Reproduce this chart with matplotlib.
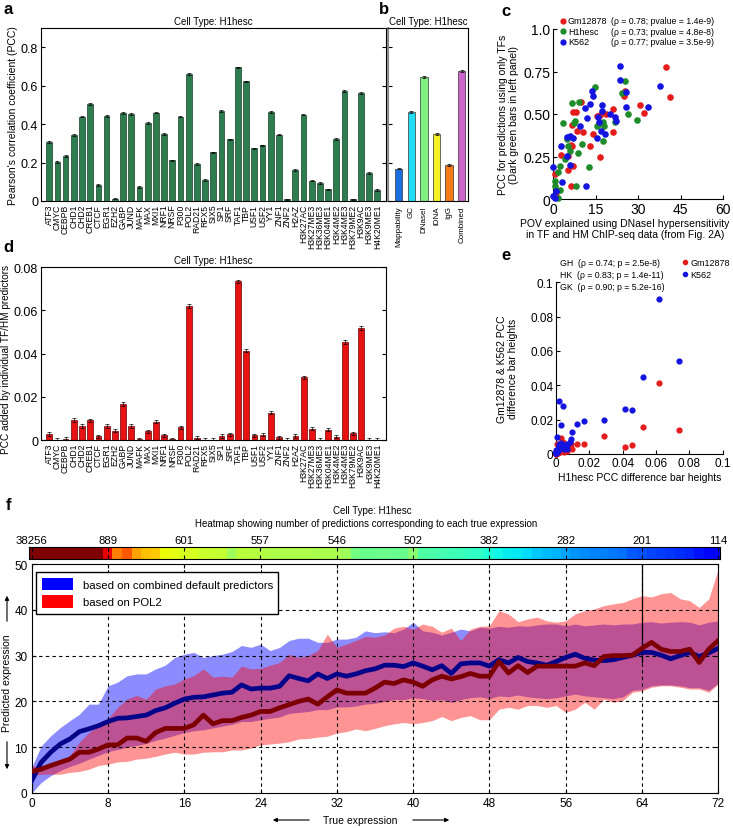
import numpy as np
import matplotlib
matplotlib.use("Agg")
import matplotlib.pyplot as plt
from matplotlib.patches import Patch
from matplotlib.colors import Normalize

plt.rcParams['font.family'] = ['Liberation Sans', 'DejaVu Sans']

# -----------------------------
# Data
# -----------------------------
factors = ["ATF3", "CMYC", "CEBPB", "CHD1", "CHD2", "CREB1", "CTCF", "EGR1", "EZH2",
           "GABP", "JUND", "MAFK", "MAX", "MXI1", "NRF1", "NRSF", "P300", "POL2",
           "RAD21", "RFX5", "SIX5", "SP1", "SRF", "TAF1", "TBP", "USF1", "USF2", "YY1",
           "ZNF1", "ZNF2", "H2AZ", "H3K27AC", "H3K27ME3", "H3K36ME3", "H3K04ME1",
           "H3K4ME2", "H3K4ME3", "H3K79ME2", "H3K9AC", "H3K9ME3", "H4K20ME1"]

# panel a: PCC per predictor
pcc_single = [0.308, 0.204, 0.234, 0.343, 0.439, 0.504, 0.082, 0.443, 0.012,
              0.457, 0.453, 0.073, 0.406, 0.460, 0.349, 0.211, 0.439, 0.661,
              0.192, 0.108, 0.253, 0.469, 0.321, 0.695, 0.622, 0.274, 0.289, 0.464,
              0.345, 0.009, 0.160, 0.450, 0.106, 0.094, 0.061,
              0.322, 0.573, 0.009, 0.563, 0.146, 0.056]

# panel b: baseline predictors
base_labels = ["Mappability", "GC", "DNaseI", "iDNA", "IgG", "Combined"]
pcc_base = [0.169, 0.462, 0.645, 0.349, 0.188, 0.677]
base_colors = ["#1a6fdf", "#22dcf5", "#80f080", "#f5f020", "#f57a14", "#cc66cc"]

# panel d: PCC added by each predictor
pcc_added = [0.0028, 0.0002, 0.0005, 0.0093, 0.0064, 0.0091, 0.0017, 0.0065, 0.0043,
             0.0166, 0.0064, 0.0003, 0.0040, 0.0085, 0.0022, 0.0003, 0.0059, 0.0620,
             0.0011, 0.0002, 0.0002, 0.0019, 0.0026, 0.0735, 0.0414, 0.0022, 0.0025,
             0.0127, 0.0012, 0.0002, 0.0019, 0.0290, 0.0053, 0.0001, 0.0048,
             0.0016, 0.0453, 0.0031, 0.0519, 0.0001, 0.0001]

# panel c: POV vs PCC (TF only)
pov_gm = [39.6, 41.2, 30.6, 32.0, 25.3, 25.1, 21.2, 21.2, 16.5, 15.3, 14.1, 12.9, 16.5,
          10.6, 7.1, 8.0, 6.5, 8.2, 6.5, 5.3, 2.6, 5.3, 6.1, 6.8, 0.6, 0.9, 1.2, 18.5, 9.7, 6.3]
pcc_gm = [0.775, 0.598, 0.555, 0.508, 0.637, 0.608, 0.529, 0.396, 0.494, 0.490, 0.382,
          0.312, 0.245, 0.392, 0.514, 0.514, 0.435, 0.402, 0.314, 0.255, 0.259, 0.173,
          0.078, 0.192, 0.147, 0.020, 0.050, 0.500, 0.570, 0.320]
pov_h1 = [25.4, 24.1, 26.5, 29.4, 14.7, 9.2, 6.5, 7.6, 3.3, 15.3, 17.6, 17.9, 21.8, 17.6,
          10.0, 8.8, 12.6, 4.7, 5.3, 5.9, 4.1, 2.4, 1.8, 0.6, 0.6, 1.8, 8.0, 2.4, 7.3, 16.0]
pcc_h1 = [0.696, 0.624, 0.500, 0.467, 0.661, 0.573, 0.565, 0.461, 0.445, 0.431, 0.451,
          0.431, 0.455, 0.343, 0.324, 0.271, 0.186, 0.353, 0.314, 0.284, 0.235, 0.196,
          0.157, 0.108, 0.078, 0.004, 0.075, 0.055, 0.450, 0.440]
pov_k5 = [23.5, 23.5, 37.6, 25.5, 33.5, 25.6, 13.5, 14.1, 11.2, 12.9, 17.1, 17.1, 20.0,
          21.8, 22.1, 15.9, 16.2, 12.0, 9.4, 18.2, 16.7, 15.3, 6.8, 5.9, 4.7, 2.6, 4.7,
          5.9, 2.9, 0.0, 0.0, 0.6, 11.4, 1.0]
pcc_k5 = [0.784, 0.700, 0.667, 0.631, 0.539, 0.543, 0.637, 0.608, 0.533, 0.559, 0.553,
          0.520, 0.500, 0.480, 0.461, 0.480, 0.451, 0.475, 0.431, 0.382, 0.402, 0.357,
          0.357, 0.373, 0.363, 0.314, 0.255, 0.200, 0.102, 0.186, 0.020, 0.004, 0.076, 0.050]
c_cells = ["Gm12878", "H1hesc", "K562"]
c_rho = ["0.78", "0.73", "0.77"]
c_pval = ["1.4e-9", "4.8e-8", "3.5e-9"]

# panel e: difference bar heights in the other cell types (x = pcc_added)
diff_gm = [0.0091, 0.0010, 0.0058, 0.0029, 0.0040, 0.0060, 0.0020, 0.0015, 0.0070,
           0.0058, 0.0035, 0.0005, 0.0030, 0.0055, 0.0012, 0.0008, 0.0025, 0.0416,
           0.0006, 0.0003, 0.0004, 0.0050, 0.0018, 0.0142, 0.0043, 0.0028, 0.0016,
           0.0058, 0.0009, 0.0002, 0.0030, 0.0107, 0.0020, 0.0001, 0.0012,
           0.0025, 0.0054, 0.0045, 0.0159, 0.0002, 0.0001]
diff_k5 = [0.0169, 0.0025, 0.0097, 0.0126, 0.0050, 0.0087, 0.0310, 0.0030, 0.0278,
           0.0194, 0.0060, 0.0015, 0.0055, 0.0072, 0.0040, 0.0012, 0.0035, 0.0900,
           0.0020, 0.0008, 0.0010, 0.0060, 0.0040, 0.0540, 0.0262, 0.0050, 0.0035,
           0.0175, 0.0022, 0.0006, 0.0045, 0.0196, 0.0040, 0.0005, 0.0030,
           0.0055, 0.0256, 0.0065, 0.0450, 0.0003, 0.0004]
e_pairs = ["GH", "HK", "GK"]
e_rho = ["0.74", "0.83", "0.90"]
e_pval = ["2.5e-8", "1.4e-11", "5.2e-16"]

# panel f: predicted vs true expression
true_expr = list(range(73))
n_pred = [38256, 12000, 6500, 4200, 3000, 2200, 1600, 1150, 889, 760, 800, 720, 690,
          680, 625, 615, 601, 598, 585, 580, 578, 535, 565, 562, 557, 553, 550, 551,
          549, 548, 547, 546, 546, 530, 480, 470, 468, 472, 465, 470, 502, 440, 435,
          425, 420, 415, 405, 400, 382, 360, 350, 345, 335, 315, 305, 295, 282, 265,
          258, 252, 248, 240, 232, 210, 201, 190, 182, 175, 168, 160, 140, 128, 114]
comb_mean = [2.7, 6.7, 8.9, 10.7, 11.8, 13.4, 14.0, 14.7, 15.6, 16.3, 16.4, 16.7, 17.0,
             18.0, 18.6, 19.6, 20.5, 20.9, 21.0, 21.4, 21.8, 22.0, 23.6, 22.7, 22.9,
             22.9, 23.3, 25.6, 25.0, 24.5, 26.0, 25.0, 26.0, 25.5, 26.0, 26.7, 27.1,
             27.9, 27.9, 27.6, 28.4, 27.7, 26.9, 27.8, 26.1, 28.2, 28.4, 28.4, 27.7,
             29.1, 28.4, 29.6, 28.7, 28.4, 27.9, 28.7, 29.6, 30.3, 29.4, 29.0, 28.9,
             29.1, 29.6, 30.1, 30.7, 30.7, 30.1, 29.3, 30.0, 30.7, 29.8, 30.6, 31.6]
comb_hi = [5.6, 10.3, 12.5, 14.3, 15.8, 17.2, 19.4, 19.4, 23.4, 24.2, 25.6, 26.0, 26.0,
           27.1, 27.9, 29.6, 30.3, 30.7, 29.6, 30.0, 30.3, 30.9, 32.2, 31.8, 32.5, 31.1,
           31.8, 33.3, 33.8, 33.8, 32.9, 32.9, 33.6, 33.6, 34.0, 35.4, 35.0, 35.2, 35.0,
           35.8, 37.3, 35.4, 35.1, 34.5, 35.1, 35.8, 35.4, 36.2, 36.0, 36.4, 36.2, 36.5,
           36.4, 36.7, 36.9, 36.9, 36.5, 36.9, 36.5, 36.7, 36.9, 36.7, 36.9, 36.9, 37.3,
           37.4, 37.1, 37.3, 37.4, 37.3, 36.7, 37.3, 37.6]
comb_lo = [0.0, 2.3, 3.8, 4.9, 5.8, 6.5, 7.4, 8.2, 9.0, 9.5, 10.0, 10.4, 10.8, 11.5,
           12.0, 12.6, 13.2, 13.6, 13.8, 14.2, 14.6, 15.0, 15.6, 15.6, 16.0, 16.3, 16.6,
           17.4, 17.6, 17.8, 18.2, 18.2, 18.8, 18.8, 19.0, 19.4, 19.6, 20.0, 20.4, 20.4,
           20.8, 20.6, 20.2, 20.4, 19.8, 20.4, 20.8, 21.0, 20.6, 21.2, 21.0, 21.4, 21.0,
           20.8, 20.6, 20.8, 21.2, 21.6, 21.2, 21.0, 20.8, 20.6, 21.0, 22.4, 22.6, 23.4,
           23.6, 23.6, 23.4, 23.0, 23.0, 22.4, 24.0]
pol2_mean = [4.7, 5.2, 6.0, 6.7, 7.4, 8.9, 8.9, 9.6, 10.5, 10.5, 12.0, 12.0, 11.3, 13.2,
             14.1, 14.1, 14.1, 14.9, 17.0, 15.1, 15.8, 15.8, 16.5, 17.0, 17.8, 17.8,
             18.6, 19.3, 20.0, 20.5, 19.4, 21.0, 22.5, 21.8, 21.8, 21.8, 22.9, 24.2,
             23.9, 24.7, 24.2, 23.3, 24.7, 25.5, 24.9, 25.4, 26.1, 25.5, 25.5, 28.7,
             26.2, 27.8, 26.3, 27.7, 27.7, 27.7, 27.7, 27.7, 28.4, 27.8, 29.8, 30.0,
             30.0, 30.1, 31.6, 32.9, 31.4, 30.9, 30.9, 31.4, 28.5, 31.4, 33.3]
pol2_hi = [6.0, 5.6, 6.0, 6.7, 8.2, 11.1, 13.2, 14.7, 16.2, 18.7, 20.5, 21.3, 20.5, 22.7,
           23.4, 23.8, 24.9, 25.6, 27.1, 25.3, 25.5, 25.3, 27.7, 27.1, 27.2, 27.9, 28.5,
           30.3, 29.6, 30.0, 31.1, 34.7, 31.8, 32.5, 33.3, 34.2, 34.0, 34.5, 36.0, 36.4,
           35.8, 36.9, 36.4, 35.1, 36.0, 33.3, 35.8, 36.4, 36.5, 39.8, 39.1, 37.4, 38.0,
           38.4, 37.6, 37.3, 37.6, 39.1, 39.8, 40.2, 40.9, 41.3, 41.6, 42.4, 43.1, 42.8,
           43.5, 43.8, 42.4, 42.0, 40.5, 42.4, 49.0]
pol2_lo = [3.8, 4.1, 4.1, 4.1, 4.5, 4.7, 5.2, 6.0, 6.3, 6.8, 6.9, 7.4, 7.6, 8.0, 8.5,
           8.9, 8.5, 8.5, 8.9, 9.0, 9.0, 9.4, 9.4, 9.8, 10.5, 10.7, 10.9, 11.2, 11.8,
           11.9, 12.2, 12.4, 13.1, 13.4, 14.0, 13.6, 14.1, 14.7, 15.1, 15.4, 15.1, 15.4,
           15.8, 16.7, 15.8, 16.5, 16.9, 16.0, 16.0, 18.3, 18.7, 18.3, 19.1, 19.1, 18.7,
           19.1, 17.6, 18.3, 19.8, 18.3, 20.5, 19.8, 20.2, 22.0, 22.3, 23.1, 23.4, 23.4,
           23.1, 22.7, 22.7, 22.0, 23.8]

# -----------------------------
# Figure helpers
# -----------------------------
W, H = 733, 829
fig = plt.figure(figsize=(W / 100, H / 100), dpi=100)


def add_ax(left, top, right, bottom):
    # axes placed by pixel box of the reference
    return fig.add_axes([left / W, 1 - bottom / H, (right - left) / W, (bottom - top) / H])


def panel_letter(x, y, s):
    fig.text(x / W, 1 - y / H, s, fontsize=12, fontweight="bold", ha="center", va="center")


def add_arrow(x0, y0, x1, y1):
    fig.add_artist(plt.Annotation("", xy=(x1 / W, 1 - y1 / H), xytext=(x0 / W, 1 - y0 / H),
                                  xycoords="figure fraction",
                                  arrowprops=dict(arrowstyle="-|>", color="black", lw=0.8,
                                                  mutation_scale=6)))


TXT = 7.5
CAT = 6.2
title = "Cell Type: H1hesc"
xpos = np.arange(1, len(factors) + 1)

# -----------------------------
# a
# -----------------------------
ax_a = add_ax(41, 29, 385.5, 202)
ax_a.bar(xpos, pcc_single, width=0.7, color="#2e7d4f", edgecolor="#173f27", linewidth=0.5,
         yerr=0.004, capsize=1.2, error_kw=dict(elinewidth=0.5, capthick=0.5))
ax_a.set_xlim(0, 42)
ax_a.set_ylim(0, 0.9)
ax_a.set_xticks(xpos)
ax_a.set_xticklabels(factors, rotation=90, fontsize=CAT)
ax_a.set_yticks([0, 0.2, 0.4, 0.6, 0.8])
ax_a.set_yticklabels(["0", "0.2", "0.4", "0.6", "0.8"])
ax_a.tick_params(axis="y", direction="in", length=3, right=True, labelsize=9, pad=2)
ax_a.tick_params(axis="x", length=0, pad=2)
ax_a.set_ylabel("Pearson's correlation coefficient (PCC)", fontsize=TXT, labelpad=2)
ax_a.set_title(title, fontsize=7, pad=3)

# -----------------------------
# b
# -----------------------------
ax_b = add_ax(388, 29, 468, 202)
bpos = np.arange(1, len(base_labels) + 1)
ax_b.bar(bpos, pcc_base, width=0.6, color=base_colors, edgecolor="#333333", linewidth=0.5,
         yerr=0.004, capsize=1.2, error_kw=dict(elinewidth=0.5, capthick=0.5))
ax_b.set_xlim(0.15, 6.5)
ax_b.set_ylim(0, 0.9)
ax_b.set_xticks(bpos)
ax_b.set_xticklabels(base_labels, rotation=90, fontsize=5.8)
ax_b.set_yticks([0, 0.2, 0.4, 0.6, 0.8])
ax_b.set_yticklabels([])
ax_b.tick_params(axis="y", direction="in", length=3)
ax_b.tick_params(axis="x", length=0, pad=3)
ax_b.spines["left"].set_color("#888888")
ax_b.spines["left"].set_linewidth(1.5)
ax_b.set_title(title, fontsize=7, pad=3)

# -----------------------------
# c
# -----------------------------
ax_c = add_ax(553.3, 30, 723.3, 200)
ax_c.scatter(pov_gm, pcc_gm, s=14, color="#e51c1c", clip_on=False, zorder=3)
ax_c.scatter(pov_h1, pcc_h1, s=14, color="#1e8c2a", clip_on=False, zorder=3)
ax_c.scatter(pov_k5, pcc_k5, s=14, color="#1414e0", clip_on=False, zorder=3)
ax_c.set_xlim(0, 60)
ax_c.set_ylim(0, 1)
ax_c.set_xticks([0, 15, 30, 45, 60])
ax_c.set_yticks([0, 0.25, 0.5, 0.75, 1.0])
ax_c.set_yticklabels(["0", "0.25", "0.50", "0.75", "1.0"])
ax_c.spines["top"].set_visible(False)
ax_c.spines["right"].set_visible(False)
ax_c.tick_params(direction="in", length=3, labelsize=10, pad=2)
ax_c.set_xlabel("POV explained using DNaseI hypersensitivity\nin TF and HM ChIP-seq data (from Fig. 2A)",
                fontsize=TXT, linespacing=1.2)
ax_c.xaxis.set_label_coords(0.42, -0.11)
ax_c.set_ylabel("PCC for predictions using only TFs\n(Dark green bars in left panel)",
                fontsize=TXT, linespacing=1.2)
ax_c.yaxis.set_label_coords(-0.2, 0.5)
c_cols = ["#e51c1c", "#1e8c2a", "#1414e0"]
for i, (cell, r, p) in enumerate(zip(c_cells, c_rho, c_pval)):
    yy = 1.049 - i * 0.062
    ax_c.plot([0.057], [yy], "o", ms=3.5, color=c_cols[i], transform=ax_c.transAxes, clip_on=False)
    ax_c.text(0.086, yy, cell, fontsize=6.5, va="center", transform=ax_c.transAxes)
    ax_c.text(0.338, yy, f"(\u03c1 = {r}; pvalue = {p})", fontsize=6.3, va="center",
              transform=ax_c.transAxes)

# -----------------------------
# d
# -----------------------------
ax_d = add_ax(41, 268.3, 385.7, 441)
ax_d.bar(xpos, pcc_added, width=0.7, color="#e81212", edgecolor="#6a0000", linewidth=0.5,
         yerr=0.0008, capsize=1.2, error_kw=dict(elinewidth=0.5, capthick=0.5))
ax_d.set_xlim(0, 42)
ax_d.set_ylim(0, 0.08)
ax_d.set_xticks(xpos)
ax_d.set_xticklabels(factors, rotation=90, fontsize=CAT)
ax_d.set_yticks([0, 0.02, 0.04, 0.06, 0.08])
ax_d.set_yticklabels(["0", "0.02", "0.04", "0.06", "0.08"])
ax_d.tick_params(axis="y", direction="in", length=3, right=True, labelsize=9, pad=2)
ax_d.tick_params(axis="x", length=0, pad=2)
ax_d.set_ylabel("PCC added by individual TF/HM predictors", fontsize=7.2)
ax_d.yaxis.set_label_coords(-0.086, 0.47)
ax_d.set_title(title, fontsize=7, pad=3)

# -----------------------------
# e
# -----------------------------
ax_e = add_ax(556, 283.3, 722.7, 455)
ax_e.scatter(pcc_added, diff_gm, s=12, color="#e51c1c", clip_on=False, zorder=3)
ax_e.scatter(pcc_added, diff_k5, s=12, color="#1414e0", clip_on=False, zorder=3)
ax_e.set_xlim(0, 0.1)
ax_e.set_ylim(0, 0.1)
eticks = [0, 0.02, 0.04, 0.06, 0.08, 0.1]
ax_e.set_xticks(eticks)
ax_e.set_xticklabels([f"{t:g}" for t in eticks])
ax_e.set_yticks(eticks)
ax_e.set_yticklabels([f"{t:g}" for t in eticks])
ax_e.spines["top"].set_visible(False)
ax_e.spines["right"].set_visible(False)
ax_e.tick_params(direction="in", length=3, labelsize=8.5, pad=2)
ax_e.set_xlabel("H1hesc PCC difference bar heights", fontsize=TXT, labelpad=2)
ax_e.set_ylabel("Gm12878 & K562 PCC\ndifference bar heights", fontsize=TXT, linespacing=1.2)
ax_e.yaxis.set_label_coords(-0.225, 0.5)
for i, (pr, r, p) in enumerate(zip(e_pairs, e_rho, e_pval)):
    ax_e.text(0.024, 1.118 - i * 0.07, f"{pr}  (\u03c1 = {r}; p = {p})", fontsize=6.3,
              va="center", transform=ax_e.transAxes)
for i, (cell, col) in enumerate([("Gm12878", "#e51c1c"), ("K562", "#1414e0")]):
    yy = 1.118 - i * 0.07
    ax_e.plot([0.774], [yy], "o", ms=3, color=col, transform=ax_e.transAxes, clip_on=False)
    ax_e.text(0.804, yy, cell, fontsize=6.5, va="center", transform=ax_e.transAxes)

# -----------------------------
# f: heatmap strip
# -----------------------------
ax_h = add_ax(29.3, 548.3, 720, 560)
ax_h.imshow(np.array(n_pred)[None, :], extent=(-0.5, 72.5, 0, 1), aspect="auto",
            cmap="jet", norm=Normalize(vmin=0, vmax=980), interpolation="nearest")
ax_h.set_xlim(-0.25, 72.2)
ax_h.set_ylim(0, 1)
hticks = list(range(0, 73, 8))
ax_h.set_xticks(hticks)
ax_h.set_xticklabels([str(n_pred[t]) for t in hticks])
ax_h.xaxis.tick_top()
ax_h.tick_params(axis="x", direction="in", length=3, top=True, bottom=True, labelsize=8.2, pad=2)
ax_h.set_yticks([])
fig.text(372 / W, 1 - 511.5 / H, title, fontsize=7, ha="center", va="center")
fig.text(366 / W, 1 - 524 / H,
         "Heatmap showing number of predictions corresponding to each true expression",
         fontsize=7, ha="center", va="center")

# -----------------------------
# f: main panel
# -----------------------------
ax_f = add_ax(31.7, 565, 718.3, 794)
ax_f.fill_between(true_expr, comb_lo, comb_hi, color="#0000ff", alpha=0.45, lw=0, zorder=1)
ax_f.fill_between(true_expr, pol2_lo, pol2_hi, color="#ff0000", alpha=0.42, lw=0, zorder=1.1)
for gx in range(8, 72, 8):
    ax_f.axvline(gx, color="black", lw=0.8, ls=(0, (3, 3)), zorder=1.5)
for gy in range(10, 50, 10):
    ax_f.axhline(gy, color="black", lw=0.8, ls=(0, (3, 3)), zorder=1.5)
ax_f.axvline(64, ymin=0.572, ymax=1, color="black", lw=0.9, zorder=1.6)
ax_f.plot(true_expr, comb_mean, color="#05058a", lw=3.4, zorder=3)
ax_f.plot(true_expr, pol2_mean, color="#7d0000", lw=3.4, zorder=3.1)
ax_f.set_xlim(0, 72)
ax_f.set_ylim(0, 50)
ax_f.set_xticks(list(range(0, 73, 8)))
ax_f.set_yticks(list(range(0, 51, 10)))
ax_f.tick_params(direction="in", length=3, labelsize=8.5, pad=3, top=True, right=True)
ax_f.legend(handles=[Patch(facecolor="#0000ff", label="based on combined default predictors"),
                     Patch(facecolor="#ff0000", label="based on POL2")],
            loc="upper left", bbox_to_anchor=(0.006, 0.964), borderaxespad=0,
            fontsize=8.2, frameon=True, fancybox=False, edgecolor="black", framealpha=1,
            handlelength=2.8, handleheight=1.3, labelspacing=0.45, borderpad=0.5)

# axis labels with arrows
fig.text(360 / W, 1 - 821 / H, "True expression", fontsize=TXT, ha="center", va="center")
add_arrow(312, 821, 270, 821)
add_arrow(410, 821, 452, 821)
fig.text(7 / W, 1 - 683 / H, "Predicted expression", fontsize=TXT, rotation=90,
         ha="center", va="center")
add_arrow(7, 625, 7, 594)
add_arrow(7, 740, 7, 773)

# panel letters
panel_letter(8, 10, "a")
panel_letter(384, 10, "b")
panel_letter(506, 12, "c")
panel_letter(8, 248, "d")
panel_letter(506, 255, "e")
panel_letter(8, 506, "f")

fig.savefig("out.png", dpi=100)
